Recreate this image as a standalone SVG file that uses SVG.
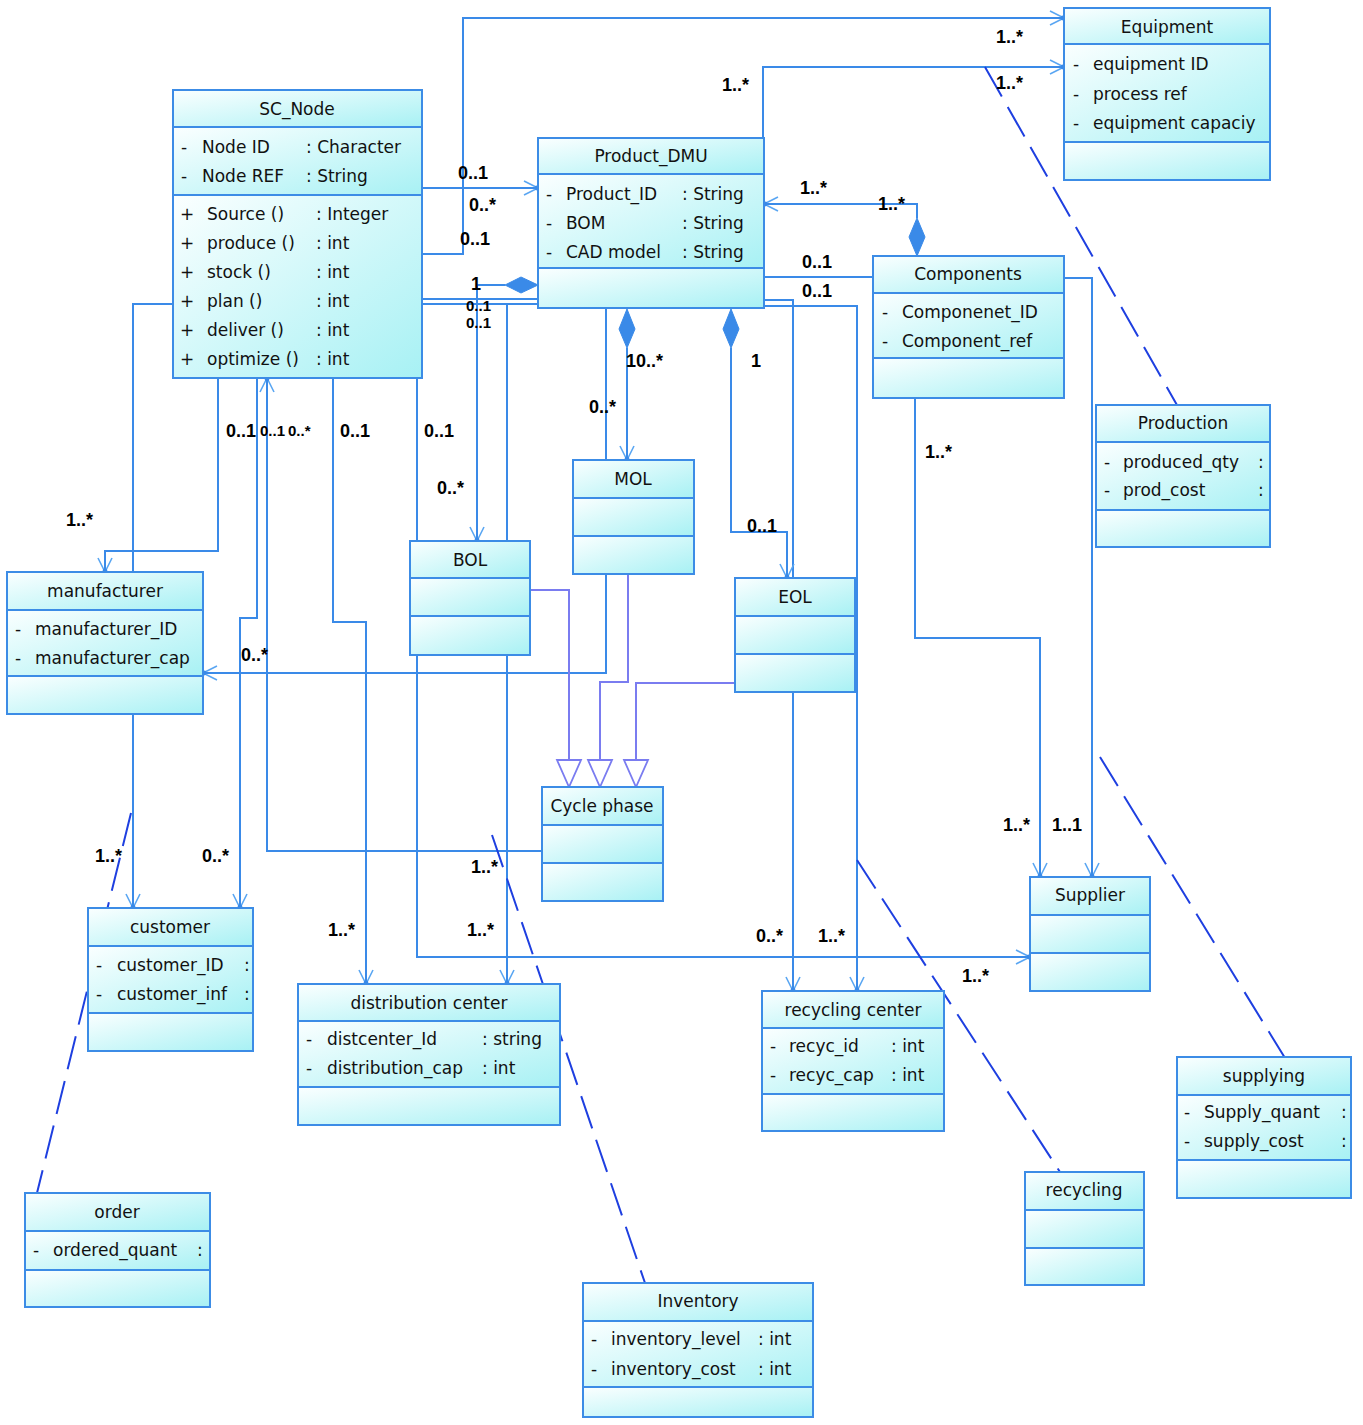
<svg xmlns="http://www.w3.org/2000/svg" width="1363" height="1425" viewBox="0 0 1363 1425">
<defs>
<linearGradient id="bg" x1="0" y1="0" x2="1" y2="1">
<stop offset="0" stop-color="#fbffff"/>
<stop offset="1" stop-color="#a7f1f4"/>
</linearGradient>
<marker id="arr" viewBox="-16 -9 18 18" markerWidth="18" markerHeight="18" refX="0" refY="0" orient="auto" markerUnits="userSpaceOnUse">
<path d="M-14,-7 L0,0 L-14,7" fill="none" stroke="#5aa6f2" stroke-width="1.6"/>
<circle cx="-1" cy="0" r="2.4" fill="#3a8ae8"/>
</marker>
</defs>
<style>
.b{fill:url(#bg);stroke:#3c8ce6;stroke-width:2}
.t{font-family:"DejaVu Sans",sans-serif;font-size:17px;fill:#111;text-anchor:middle}
.a{font-family:"DejaVu Sans",sans-serif;font-size:17px;fill:#111}
.m{font-family:"Liberation Sans",Arial,sans-serif;font-size:18px;font-weight:bold;fill:#000}
.m.s{font-size:15px}
.c{fill:none;stroke:#3a8ae8;stroke-width:2}
.ca{fill:none;stroke:#3a8ae8;stroke-width:2;marker-end:url(#arr)}
.g{fill:none;stroke:#7a7cf0;stroke-width:2}
.tri{fill:#fff;stroke:#7a7cf0;stroke-width:1.8}
.dm{fill:#3a8ae8;stroke:#3a8ae8;stroke-width:1}
.d{fill:none;stroke:#1e3fe0;stroke-width:2;stroke-dasharray:34 12}
</style>
<rect x="0" y="0" width="1363" height="1425" fill="#fff"/>

<g id="connectors">
<path class="ca" d="M422 254 H463 V18 H1064"/>
<path class="ca" d="M422 188 H538"/>
<path class="ca" d="M763 138 V67 H1064"/>
<path class="ca" d="M917 218 V204 H764"/>
<path class="c" d="M917 254 V256"/>
<path class="c" d="M764 277 H873"/>
<path class="ca" d="M764 300 H793 V991"/>
<path class="ca" d="M764 306 H857 V991"/>
<path class="ca" d="M627 348 V460"/>
<path class="ca" d="M731 348 V532 H787 V578"/>
<path class="ca" d="M606 308 V673 H203"/>
<path class="ca" d="M505 285 H477 V541"/>
<path class="c" d="M422 299 H538"/>
<path class="c" d="M422 304 H538"/>
<path class="ca" d="M507 304 V984"/>
<path class="ca" d="M417 378 V957 H1030"/>
<path class="ca" d="M218 378 V551 H105 V572"/>
<path class="ca" d="M257 378 V618 H240 V908"/>
<path class="ca" d="M542 851 H267 V378"/>
<path class="ca" d="M333 378 V622 H366 V984"/>
<path class="ca" d="M173 304 H133 V908"/>
<path class="ca" d="M915 398 V638 H1040 V877"/>
<path class="ca" d="M1064 278 H1092 V877"/>
<polygon class="dm" points="538,285 521,277 505,285 521,293"/>
<polygon class="dm" points="627,309 619,329 627,348 635,329"/>
<polygon class="dm" points="731,309 723,329 731,348 739,329"/>
<polygon class="dm" points="917,256 909,237 917,218 925,237"/>
<path class="g" d="M530 590 H569 V760"/>
<path class="g" d="M628 574 V682 H600 V760"/>
<path class="g" d="M735 683 H636 V760"/>
<polygon class="tri" points="557,760 581,760 569,787"/>
<polygon class="tri" points="588,760 612,760 600,787"/>
<polygon class="tri" points="624,760 648,760 636,787"/>
<path class="d" d="M985 67 L1190 428"/>
<path class="d" d="M1100 757 L1285 1058"/>
<path class="d" d="M857 860 L1060 1172"/>
<path class="d" d="M492 835 L645 1283"/>
<path class="d" d="M131 813 L37 1193"/>
<g id="multiplicities">
<text class="m" x="996" y="43">1..*</text>
<text class="m" x="722" y="91">1..*</text>
<text class="m" x="996" y="89">1..*</text>
<text class="m" x="458" y="179">0..1</text>
<text class="m" x="469" y="211">0..*</text>
<text class="m" x="460" y="245">0..1</text>
<text class="m" x="800" y="194">1..*</text>
<text class="m" x="878" y="210">1..*</text>
<text class="m" x="802" y="268">0..1</text>
<text class="m" x="802" y="297">0..1</text>
<text class="m" x="471" y="290">1</text>
<text class="m s" x="466" y="311">0..1</text>
<text class="m s" x="466" y="328">0..1</text>
<text class="m" x="626" y="367">10..*</text>
<text class="m" x="751" y="367">1</text>
<text class="m" x="589" y="413">0..*</text>
<text class="m" x="747" y="532">0..1</text>
<text class="m" x="925" y="458">1..*</text>
<text class="m" x="226" y="437">0..1</text>
<text class="m s" x="260" y="436">0..1</text>
<text class="m s" x="288" y="436">0..*</text>
<text class="m" x="340" y="437">0..1</text>
<text class="m" x="424" y="437">0..1</text>
<text class="m" x="437" y="494">0..*</text>
<text class="m" x="66" y="526">1..*</text>
<text class="m" x="241" y="661">0..*</text>
<text class="m" x="95" y="862">1..*</text>
<text class="m" x="202" y="862">0..*</text>
<text class="m" x="471" y="873">1..*</text>
<text class="m" x="328" y="936">1..*</text>
<text class="m" x="467" y="936">1..*</text>
<text class="m" x="756" y="942">0..*</text>
<text class="m" x="818" y="942">1..*</text>
<text class="m" x="962" y="982">1..*</text>
<text class="m" x="1003" y="831">1..*</text>
<text class="m" x="1052" y="831">1..1</text>
</g>
</g>

<g id="Equipment">
<rect class="b" x="1064" y="8" width="206" height="36"/>
<rect class="b" x="1064" y="44" width="206" height="98"/>
<rect class="b" x="1064" y="142" width="206" height="38"/>
<text class="t" x="1167" y="33">Equipment</text>
<text class="a" x="1073" y="70">-</text><text class="a" x="1093" y="70">equipment ID</text>
<text class="a" x="1073" y="100">-</text><text class="a" x="1093" y="100">process ref</text>
<text class="a" x="1073" y="129">-</text><text class="a" x="1093" y="129">equipment capaciy</text>
</g>

<g id="SC_Node">
<rect class="b" x="173" y="90" width="249" height="37"/>
<rect class="b" x="173" y="127" width="249" height="68"/>
<rect class="b" x="173" y="195" width="249" height="183"/>
<text class="t" x="297" y="115">SC_Node</text>
<text class="a" x="181" y="153">-</text><text class="a" x="202" y="153">Node ID</text><text class="a" x="306" y="153">: Character</text>
<text class="a" x="181" y="182">-</text><text class="a" x="202" y="182">Node REF</text><text class="a" x="306" y="182">: String</text>
<text class="a" x="180" y="220">+</text><text class="a" x="207" y="220">Source ()</text><text class="a" x="316" y="220">: Integer</text>
<text class="a" x="180" y="249">+</text><text class="a" x="207" y="249">produce ()</text><text class="a" x="316" y="249">: int</text>
<text class="a" x="180" y="278">+</text><text class="a" x="207" y="278">stock ()</text><text class="a" x="316" y="278">: int</text>
<text class="a" x="180" y="307">+</text><text class="a" x="207" y="307">plan ()</text><text class="a" x="316" y="307">: int</text>
<text class="a" x="180" y="336">+</text><text class="a" x="207" y="336">deliver ()</text><text class="a" x="316" y="336">: int</text>
<text class="a" x="180" y="365">+</text><text class="a" x="207" y="365">optimize ()</text><text class="a" x="316" y="365">: int</text>
</g>

<g id="Product_DMU">
<rect class="b" x="538" y="138" width="226" height="36"/>
<rect class="b" x="538" y="174" width="226" height="94"/>
<rect class="b" x="538" y="268" width="226" height="40"/>
<text class="t" x="651" y="162">Product_DMU</text>
<text class="a" x="546" y="200">-</text><text class="a" x="566" y="200">Product_ID</text><text class="a" x="682" y="200">: String</text>
<text class="a" x="546" y="229">-</text><text class="a" x="566" y="229">BOM</text><text class="a" x="682" y="229">: String</text>
<text class="a" x="546" y="258">-</text><text class="a" x="566" y="258">CAD model</text><text class="a" x="682" y="258">: String</text>
</g>

<g id="Components">
<rect class="b" x="873" y="256" width="191" height="37"/>
<rect class="b" x="873" y="293" width="191" height="65"/>
<rect class="b" x="873" y="358" width="191" height="40"/>
<text class="t" x="968" y="280">Components</text>
<text class="a" x="882" y="318">-</text><text class="a" x="902" y="318">Componenet_ID</text>
<text class="a" x="882" y="347">-</text><text class="a" x="902" y="347">Component_ref</text>
</g>

<g id="Production">
<rect class="b" x="1096" y="405" width="174" height="37"/>
<rect class="b" x="1096" y="442" width="174" height="68"/>
<rect class="b" x="1096" y="510" width="174" height="37"/>
<text class="t" x="1183" y="429">Production</text>
<text class="a" x="1104" y="468">-</text><text class="a" x="1123" y="468">produced_qty</text><text class="a" x="1258" y="468">:</text>
<text class="a" x="1104" y="496">-</text><text class="a" x="1123" y="496">prod_cost</text><text class="a" x="1258" y="496">:</text>
</g>

<g id="manufacturer">
<rect class="b" x="7" y="572" width="196" height="38"/>
<rect class="b" x="7" y="610" width="196" height="66"/>
<rect class="b" x="7" y="676" width="196" height="38"/>
<text class="t" x="105" y="597">manufacturer</text>
<text class="a" x="15" y="635">-</text><text class="a" x="35" y="635">manufacturer_ID</text>
<text class="a" x="15" y="664">-</text><text class="a" x="35" y="664">manufacturer_cap</text>
</g>

<g id="BOL">
<rect class="b" x="410" y="541" width="120" height="37"/>
<rect class="b" x="410" y="578" width="120" height="38"/>
<rect class="b" x="410" y="616" width="120" height="39"/>
<text class="t" x="470" y="566">BOL</text>
</g>

<g id="MOL">
<rect class="b" x="573" y="460" width="121" height="38"/>
<rect class="b" x="573" y="498" width="121" height="38"/>
<rect class="b" x="573" y="536" width="121" height="38"/>
<text class="t" x="633" y="485">MOL</text>
</g>

<g id="EOL">
<rect class="b" x="735" y="578" width="120" height="38"/>
<rect class="b" x="735" y="616" width="120" height="38"/>
<rect class="b" x="735" y="654" width="120" height="38"/>
<text class="t" x="795" y="603">EOL</text>
</g>

<g id="Cycle_phase">
<rect class="b" x="542" y="787" width="121" height="38"/>
<rect class="b" x="542" y="825" width="121" height="38"/>
<rect class="b" x="542" y="863" width="121" height="38"/>
<text class="t" x="602" y="812">Cycle phase</text>
</g>

<g id="Supplier">
<rect class="b" x="1030" y="877" width="120" height="38"/>
<rect class="b" x="1030" y="915" width="120" height="38"/>
<rect class="b" x="1030" y="953" width="120" height="38"/>
<text class="t" x="1090" y="901">Supplier</text>
</g>

<g id="customer">
<rect class="b" x="88" y="908" width="165" height="38"/>
<rect class="b" x="88" y="946" width="165" height="67"/>
<rect class="b" x="88" y="1013" width="165" height="38"/>
<text class="t" x="170" y="933">customer</text>
<text class="a" x="96" y="971">-</text><text class="a" x="117" y="971">customer_ID</text><text class="a" x="244" y="971">:</text>
<text class="a" x="96" y="1000">-</text><text class="a" x="117" y="1000">customer_inf</text><text class="a" x="244" y="1000">:</text>
</g>

<g id="distribution_center">
<rect class="b" x="298" y="984" width="262" height="37"/>
<rect class="b" x="298" y="1021" width="262" height="66"/>
<rect class="b" x="298" y="1087" width="262" height="38"/>
<text class="t" x="429" y="1009">distribution center</text>
<text class="a" x="306" y="1045">-</text><text class="a" x="327" y="1045">distcenter_Id</text><text class="a" x="482" y="1045">: string</text>
<text class="a" x="306" y="1074">-</text><text class="a" x="327" y="1074">distribution_cap</text><text class="a" x="482" y="1074">: int</text>
</g>

<g id="recycling_center">
<rect class="b" x="762" y="991" width="182" height="37"/>
<rect class="b" x="762" y="1028" width="182" height="66"/>
<rect class="b" x="762" y="1094" width="182" height="37"/>
<text class="t" x="853" y="1016">recycling center</text>
<text class="a" x="770" y="1052">-</text><text class="a" x="789" y="1052">recyc_id</text><text class="a" x="891" y="1052">: int</text>
<text class="a" x="770" y="1081">-</text><text class="a" x="789" y="1081">recyc_cap</text><text class="a" x="891" y="1081">: int</text>
</g>

<g id="supplying">
<rect class="b" x="1177" y="1057" width="174" height="38"/>
<rect class="b" x="1177" y="1095" width="174" height="65"/>
<rect class="b" x="1177" y="1160" width="174" height="38"/>
<text class="t" x="1264" y="1082">supplying</text>
<text class="a" x="1184" y="1118">-</text><text class="a" x="1204" y="1118">Supply_quant</text><text class="a" x="1341" y="1118">:</text>
<text class="a" x="1184" y="1147">-</text><text class="a" x="1204" y="1147">supply_cost</text><text class="a" x="1341" y="1147">:</text>
</g>

<g id="recycling">
<rect class="b" x="1025" y="1172" width="119" height="38"/>
<rect class="b" x="1025" y="1210" width="119" height="38"/>
<rect class="b" x="1025" y="1248" width="119" height="37"/>
<text class="t" x="1084" y="1196">recycling</text>
</g>

<g id="order">
<rect class="b" x="25" y="1193" width="185" height="38"/>
<rect class="b" x="25" y="1231" width="185" height="39"/>
<rect class="b" x="25" y="1270" width="185" height="37"/>
<text class="t" x="117" y="1218">order</text>
<text class="a" x="33" y="1256">-</text><text class="a" x="53" y="1256">ordered_quant</text><text class="a" x="197" y="1256">:</text>
</g>

<g id="Inventory">
<rect class="b" x="583" y="1283" width="230" height="38"/>
<rect class="b" x="583" y="1321" width="230" height="66"/>
<rect class="b" x="583" y="1387" width="230" height="30"/>
<text class="t" x="698" y="1307">Inventory</text>
<text class="a" x="591" y="1345">-</text><text class="a" x="611" y="1345">inventory_level</text><text class="a" x="758" y="1345">: int</text>
<text class="a" x="591" y="1375">-</text><text class="a" x="611" y="1375">inventory_cost</text><text class="a" x="758" y="1375">: int</text>
</g>
</svg>
